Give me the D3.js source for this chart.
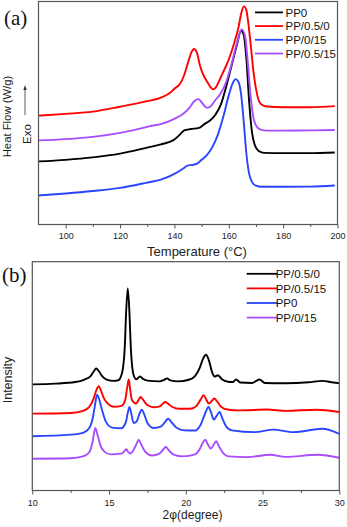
<!DOCTYPE html>
<html><head><meta charset="utf-8">
<script src="https://cdn.jsdelivr.net/npm/d3@7"></script>
<style>
html,body{margin:0;padding:0;background:#fff;}
svg{display:block;}
</style></head>
<body>
<svg id="c" width="347" height="527"></svg>
<script>
// ---------- Panel (a): DSC heat flow (arbitrary units) vs temperature (°C) ----------
const dscNames = ["PP0", "PP/0.5/0", "PP/0/15", "PP/0.5/15"];
const dscColors = ["#000000", "#ff0000", "#2a45ff", "#a84cff"];
const dscTicks = [100, 120, 140, 160, 180, 200];
const dscMinorTicks = [110, 130, 150, 170, 190];

const dscPP0 = [[90,28.3],[100,29.0],[110,30.1],[120,31.8],[130,34.5],[135,35.9],[140,38.1],[142,40.3],[143.6,42.2],[146,42.8],[149,43.3],[151,45.0],[153,46.5],[155,49.1],[157,53.5],[159,61.6],[161,71.1],[163,80.6],[164.5,86.9],[165.5,85.0],[166.5,74.0],[167.5,55.0],[168.5,41.8],[169.5,35.9],[171,33.0],[173,32.1],[180,32.0],[190,32.0],[199,32.3]];
const dscPP05_0 = [[90,48.8],[100,49.6],[110,50.6],[120,52.8],[130,55.3],[134.6,56.7],[138,58.7],[140,60.9],[142,63.0],[143.5,66.7],[145,72.6],[146.3,77.3],[147.2,78.7],[148.3,77.0],[149.3,71.8],[150.5,67.4],[152,64.1],[153.3,61.6],[154.2,60.6],[155.3,61.6],[156.5,64.5],[158,68.5],[160,74.0],[162,81.4],[163.5,88.0],[164.7,95.3],[165.6,97.8],[166.5,96.0],[167.2,90.2],[168,81.4],[169,69.6],[170,60.9],[171,55.7],[172,53.8],[174,52.9],[180,52.6],[190,52.6],[199,53.1]];
const dscPP0_15 = [[90,13.0],[100,13.9],[110,15.0],[120,16.4],[130,18.8],[135,20.1],[140,22.7],[143,24.9],[144.8,26.4],[147,26.8],[148.5,27.4],[150,29.0],[152,31.2],[154,34.8],[156,40.3],[158,48.4],[160,57.9],[161.5,63.5],[162.5,65.2],[163.5,64.1],[164.5,58.7],[165.5,46.2],[166.5,31.5],[167.5,22.7],[168.5,19.1],[170,17.4],[172,16.9],[180,16.9],[190,17.0],[199,17.5]];
const dscPP05_15 = [[90,37.7],[100,38.3],[110,39.3],[120,41.1],[129.7,43.7],[131,44.1],[135,45.0],[140,47.4],[143,49.4],[145.5,52.3],[147.3,55.3],[148.9,56.2],[150.3,54.3],[152,52.3],[153.5,53.2],[155,55.7],[157,58.7],[159,63.8],[161,71.8],[163,81.4],[164.8,87.5],[166,84.3],[167,72.6],[168,57.9],[169,48.4],[170,44.4],[171.5,42.7],[174,42.1],[180,42.1],[190,42.2],[199,42.4]];

// ---------- Panel (b): XRD intensity (arbitrary units) vs 2φ (degree) ----------
const xrdNames = ["PP/0.5/0", "PP/0.5/15", "PP0", "PP/0/15"];
const xrdColors = ["#000000", "#ff0000", "#2a45ff", "#a84cff"];
const xrdTicks = [10, 15, 20, 25, 30];
const xrdMinorTicks = [12.5, 17.5, 22.5, 27.5];

const xrdPP05_0 = [[10,46.4],[11.5,46.7],[12.8,47.4],[13.4,48.5],[13.8,50.0],[14.0,52.0],[14.16,53.3],[14.35,52.0],[14.55,50.0],[14.85,48.5],[15.3,47.9],[15.6,48.2],[15.85,51.5],[16.025,62.8],[16.11,77.5],[16.22,88.3],[16.33,77.5],[16.415,62.8],[16.6,50.5],[16.78,48.6],[16.92,49.4],[17.04,49.8],[17.2,48.8],[17.5,48.0],[18.3,47.7],[18.6,48.4],[18.78,49.0],[19.0,48.1],[19.5,47.7],[20.2,48.4],[20.6,50.0],[20.9,53.5],[21.12,57.5],[21.31,59.3],[21.5,57.0],[21.7,52.0],[21.88,49.8],[22.09,50.4],[22.35,48.6],[22.75,47.5],[23.05,47.4],[23.28,48.5],[23.55,47.2],[24.3,47.0],[24.8,48.5],[25.15,47.0],[26.5,46.9],[28,47.3],[28.9,47.9],[29.6,47.2],[30,46.9]];
const xrdPP05_15 = [[10,33.6],[12.5,33.9],[13.3,34.8],[13.7,36.4],[14.0,40.3],[14.18,44.0],[14.33,45.6],[14.48,43.5],[14.65,40.5],[14.9,38.1],[15.3,36.6],[15.8,37.0],[16.05,39.5],[16.18,45.0],[16.28,48.5],[16.38,44.0],[16.5,39.4],[16.75,38.0],[16.92,39.5],[17.06,40.9],[17.2,39.8],[17.45,37.6],[17.9,36.4],[18.3,36.8],[18.5,37.9],[18.65,38.7],[18.85,37.9],[19.1,36.6],[19.6,35.7],[20.3,35.7],[20.7,37.0],[20.95,39.6],[21.16,41.6],[21.35,39.5],[21.5,38.0],[21.68,39.0],[21.85,40.2],[22.05,38.8],[22.3,36.6],[22.7,35.4],[23.5,35.0],[25.3,35.4],[26.5,34.8],[28.5,35.3],[30,34.3]];
const xrdPP0 = [[10,23.7],[12.5,24.4],[13.3,25.2],[13.7,27.2],[13.95,32.0],[14.1,38.0],[14.22,41.9],[14.35,40.0],[14.55,35.0],[14.8,30.0],[15.2,27.5],[15.8,27.2],[16.1,30.0],[16.22,34.0],[16.33,36.5],[16.45,33.5],[16.6,29.5],[16.8,30.2],[16.98,33.5],[17.13,35.3],[17.28,33.5],[17.5,29.5],[17.9,27.3],[18.4,28.0],[18.65,30.0],[18.85,31.4],[19.05,30.0],[19.4,27.4],[19.9,26.3],[20.6,26.2],[20.95,28.5],[21.25,33.5],[21.48,36.5],[21.65,34.0],[21.82,31.0],[22.0,32.5],[22.2,34.3],[22.38,31.5],[22.6,28.3],[23.0,26.3],[24.5,25.5],[25.7,26.6],[27,25.5],[28.9,27.0],[30,24.8]];
const xrdPP0_15 = [[10,13.9],[12.5,14.1],[13.3,14.9],[13.7,16.6],[13.92,21.0],[14.1,27.3],[14.28,23.5],[14.45,19.5],[14.7,17.0],[15.1,15.8],[15.8,16.1],[16.0,17.2],[16.13,18.0],[16.25,16.8],[16.4,16.2],[16.65,18.4],[16.8,20.5],[16.93,22.2],[17.1,20.0],[17.35,17.0],[17.8,15.3],[18.3,16.2],[18.5,17.7],[18.7,19.0],[18.9,17.5],[19.2,15.7],[19.8,14.9],[20.6,15.8],[20.9,18.0],[21.1,20.8],[21.27,22.2],[21.45,20.0],[21.62,18.3],[21.8,19.8],[21.98,21.5],[22.15,19.5],[22.4,16.6],[22.8,14.9],[24.0,14.6],[25.5,15.6],[26.5,14.7],[28.6,15.6],[30,14.3]];

const svg = d3.select("#c");
const SANS = "'Liberation Sans', Arial, sans-serif";
const SERIF = "'Liberation Serif', 'Times New Roman', serif";
const FRAME = "#555";

function panel(cfg) {
  const g = svg.append("g");
  const x = d3.scaleLinear().domain(cfg.xDomain).range([cfg.left, cfg.right]);
  const y = d3.scaleLinear().domain([0, 100]).range([cfg.bottom, cfg.top]);

  const line = d3.line().x(d => x(d[0])).y(d => y(d[1])).curve(d3.curveMonotoneX);
  cfg.series.forEach((s, i) => {
    g.append("path").datum(s).attr("d", line)
      .attr("fill", "none").attr("stroke", cfg.colors[i])
      .attr("stroke-width", 1.9).attr("stroke-linejoin", "round");
  });

  const minor = g.append("g").attr("transform", `translate(0,${cfg.bottom})`)
    .call(d3.axisBottom(x).tickValues(cfg.minorTicks).tickSize(2.5).tickSizeOuter(0).tickFormat(""));
  minor.select(".domain").remove();
  minor.selectAll("line").attr("stroke", FRAME).attr("stroke-width", 1);

  const major = g.append("g").attr("transform", `translate(0,${cfg.bottom})`)
    .call(d3.axisBottom(x).tickValues(cfg.ticks).tickSize(4).tickSizeOuter(0).tickPadding(cfg.tickPad).tickFormat(d3.format("d")));
  major.select(".domain").remove();
  major.selectAll("line").attr("stroke", FRAME).attr("stroke-width", 1);
  major.selectAll("text").attr("font-family", SANS).attr("font-size", 9).attr("fill", "#222");

  g.append("rect").attr("x", cfg.left).attr("y", cfg.top)
    .attr("width", cfg.right - cfg.left).attr("height", cfg.bottom - cfg.top)
    .attr("fill", "none").attr("stroke", FRAME).attr("stroke-width", 1.2);

  cfg.legendNames.forEach((n, i) => {
    const ly = cfg.legendY0 + i * cfg.legendDy;
    g.append("line").attr("x1", cfg.legX1).attr("x2", cfg.legX2).attr("y1", ly).attr("y2", ly)
      .attr("stroke", cfg.colors[i]).attr("stroke-width", 1.8);
    g.append("text").attr("x", cfg.legTextX).attr("y", ly).attr("dy", "0.36em")
      .attr("font-family", SANS).attr("font-size", 11.5).attr("fill", "#111").text(n);
  });
  return {x, y, g};
}

panel({
  xDomain: [90, 200], left: 38.5, right: 337.5, top: 1.5, bottom: 224.5,
  series: [dscPP0, dscPP05_0, dscPP0_15, dscPP05_15], colors: dscColors,
  ticks: dscTicks, minorTicks: dscMinorTicks, tickPad: 4,
  legendNames: dscNames, legendY0: 12.4, legendDy: 13.7, legX1: 255, legX2: 283, legTextX: 285.5
});

panel({
  xDomain: [10, 30], left: 32.3, right: 339.3, top: 261.7, bottom: 490.5,
  series: [xrdPP05_0, xrdPP05_15, xrdPP0, xrdPP0_15], colors: xrdColors,
  ticks: xrdTicks, minorTicks: xrdMinorTicks, tickPad: 5.5,
  legendNames: xrdNames, legendY0: 273.8, legendDy: 14.6, legX1: 246.7, legX2: 277, legTextX: 275.7
});

svg.append("text").attr("x", 4).attr("y", 24.5).attr("font-family", SERIF).attr("font-size", 21).attr("fill", "#111").text("(a)");
svg.append("text").attr("x", 2).attr("y", 281.5).attr("font-family", SERIF).attr("font-size", 21).attr("fill", "#111").text("(b)");

svg.append("text").attr("x", 197).attr("y", 256).attr("text-anchor", "middle")
  .attr("font-family", SANS).attr("font-size", 13).attr("fill", "#222").text("Temperature (°C)");
svg.append("text").attr("x", 192.5).attr("y", 519).attr("text-anchor", "middle")
  .attr("font-family", SANS).attr("font-size", 12).attr("fill", "#222").text("2φ(degree)");
svg.append("text").attr("transform", "translate(10.8,116.5) rotate(-90)").attr("text-anchor", "middle")
  .attr("font-family", SANS).attr("font-size", 11.3).attr("fill", "#222").text("Heat Flow (W/g)");
svg.append("text").attr("transform", "translate(30.8,134) rotate(-90)").attr("text-anchor", "middle")
  .attr("font-family", SANS).attr("font-size", 11.5).attr("fill", "#222").text("Exo");
svg.append("text").attr("transform", "translate(12,380) rotate(-90)").attr("text-anchor", "middle")
  .attr("font-family", SANS).attr("font-size", 12.5).attr("fill", "#222").text("Intensity");

svg.append("line").attr("x1", 25).attr("x2", 25).attr("y1", 115).attr("y2", 89)
  .attr("stroke", "#333").attr("stroke-width", 0.8);
svg.append("path").attr("d", d3.line()([[23.3, 90], [25, 85], [26.7, 90]]) + "Z").attr("fill", "#333");
</script>
</body></html>
